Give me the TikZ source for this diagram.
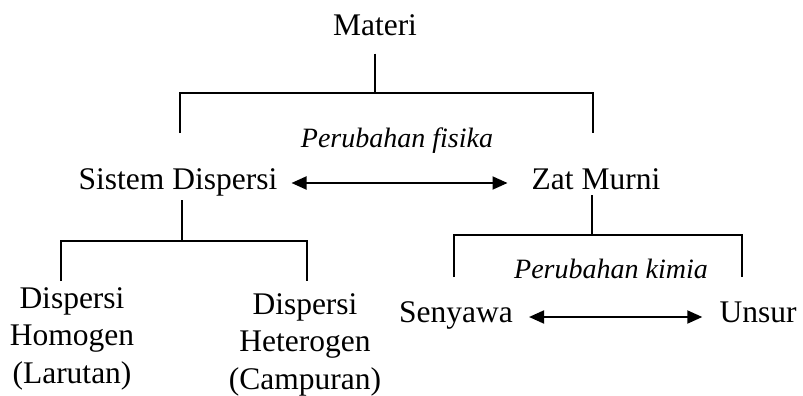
\documentclass[tikz,border=0pt]{standalone}
\usepackage{fontspec}
\setmainfont{Liberation Serif}
\usetikzlibrary{arrows.meta}
\begin{document}
\begin{tikzpicture}[x=1pt,y=-1pt,
  lbl/.style={inner sep=0pt, anchor=base, font=\fontsize{31.5}{37.5}\selectfont, align=center},
  ital/.style={inner sep=0pt, anchor=base, font=\fontsize{28}{34}\selectfont\itshape},
  tree/.style={line width=1.9pt},
  dbl/.style={line width=1.9pt, {Triangle[length=15pt,width=13pt]}-{Triangle[length=15pt,width=13pt]}}]
\useasboundingbox (0,0) rectangle (803,396);
% nodes
\node[lbl] (materi) at (375,36) {Materi};
\node[lbl] (sd) at (178,189) {Sistem Dispersi};
\node[lbl] (zm) at (596,189) {Zat Murni};
\node[ital] (fis) at (397,147) {Perubahan fisika};
\node[lbl] (homo) at (72,383) {Dispersi\\Homogen\\(Larutan)};
\node[lbl] (hetero) at (305,389) {Dispersi\\Heterogen\\(Campuran)};
\node[lbl] (sen) at (456,322) {Senyawa};
\node[lbl] (uns) at (758,322) {Unsur};
\node[ital] (kim) at (611,278) {Perubahan kimia};
% junction coordinates
\coordinate (j1) at (375,93);
\coordinate (sdtop) at (180,133);
\coordinate (zmtop) at (593,133);
\coordinate (sdbot) at (182,200);
\coordinate (j2) at (182,241);
\coordinate (homotop) at (61,281);
\coordinate (heterotop) at (307,281);
\coordinate (zmbot) at (592,195);
\coordinate (j3) at (592,235);
\coordinate (sentop) at (454,277);
\coordinate (unstop) at (742,277);
% tree lines
\draw[tree] ([yshift=-17pt]materi.south) -- (j1);
\draw[tree] (sdtop) |- (j1) -| (zmtop);
\draw[tree] (sdbot) -- (j2);
\draw[tree] (homotop) |- (j2) -| (heterotop);
\draw[tree] (zmbot) -- (j3);
\draw[tree] (sentop) |- (j3) -| (unstop);
% arrows
\draw[dbl] ([shift={(14pt,6pt)}]sd.base east) -- ([shift={(-24pt,6pt)}]zm.base west);
\draw[dbl] ([shift={(16pt,5pt)}]sen.base east) -- ([shift={(-17pt,5pt)}]uns.base west);
\end{tikzpicture}
\end{document}
